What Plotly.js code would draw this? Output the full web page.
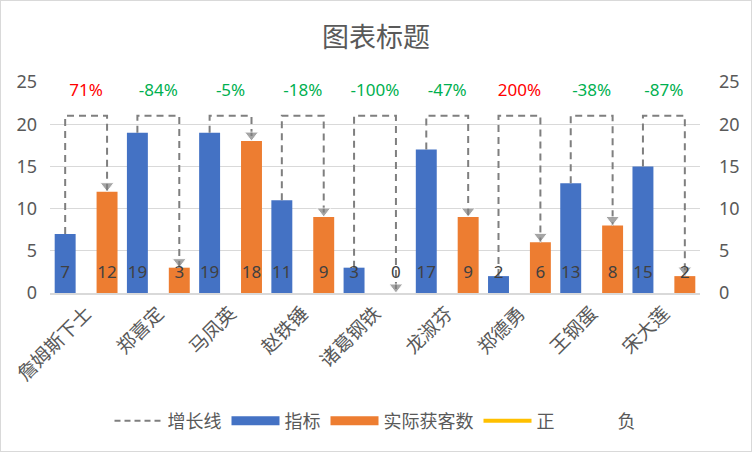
<!DOCTYPE html>
<html>
<head>
<meta charset="utf-8">
<script src="https://cdn.plot.ly/plotly-3.0.1.min.js"></script>
<style>
  body { margin: 0; background: #fff; }
  #graph { width: 750px; height: 450px; border: 1px solid #d9d9d9; }
</style>
</head>
<body>
<div id="graph"></div>
<script>
// chart values
const names = ['詹姆斯下士', '郑喜定', '马凤英', '赵铁锤', '诸葛钢铁', '龙淑芬', '郑德勇', '王钢蛋', '宋大莲']
const target = [7, 19, 19, 11, 3, 17, 2, 13, 15]
const actual = [12, 3, 18, 9, 0, 9, 6, 8, 2]
const yTicks = [0, 5, 10, 15, 20, 25]

const fontFam = '"Noto Sans", "Noto Sans CJK SC", sans-serif'
const grey = '#595959'
const lineGrey = '#7f7f7f'
const blue = '#4472C4'
const orange = '#ED7D31'
const topY = 21      // height of the dashed connector
const pctY = 23.8    // row of percentage labels
const lblY = 2.3     // row of value labels
const shift = 0.29   // bar offset from category centre

const idx = names.map((_, i) => i)
const xBlue = idx.map(i => i - shift)
const xOrange = idx.map(i => i + shift)
const pct = target.map((t, i) => (actual[i] - t) / t)

// connector paths
let gx = [], gy = [], ax = [], ay = [], asz = []
idx.forEach(i => {
    gx.push(xBlue[i], xBlue[i], xOrange[i], xOrange[i], null)
    gy.push(target[i], topY, topY, actual[i], null)
    ax.push(xOrange[i], xOrange[i], null)
    ay.push(topY, actual[i], null)
    asz.push(0, 12, 0)
})

const pos = idx.filter(i => pct[i] >= 0)
const neg = idx.filter(i => pct[i] < 0)
const fmt = v => Math.round(v * 100) + '%'

function legendOnly(name, color, width, dash) {
    return {
        type: 'scatter', mode: 'lines', name: name,
        x: [null], y: [null],
        line: {color: color, width: width, dash: dash || 'solid'}
    }
}

let data = [
    {
        type: 'scatter', mode: 'lines', name: '增长线', showlegend: false,
        x: gx, y: gy,
        line: {color: lineGrey, width: 2, dash: '7px,5px'},
        hoverinfo: 'skip'
    },
    {
        type: 'bar', name: '指标', showlegend: false,
        x: xBlue, y: target, width: 0.29,
        marker: {color: blue}
    },
    {
        type: 'bar', name: '实际获客数', showlegend: false,
        x: xOrange, y: actual, width: 0.29,
        marker: {color: orange}
    },
    legendOnly('增长线', lineGrey, 2, '6px,4px'),
    legendOnly('指标', blue, 9),
    legendOnly('实际获客数', orange, 9),
    legendOnly('正', '#FFC000', 4),
    legendOnly('负', 'rgba(0,0,0,0)', 4),
    {
        type: 'scatter', mode: 'markers', showlegend: false,
        x: ax, y: ay,
        marker: {symbol: 'triangle-up', angleref: 'previous', standoff: 6, size: asz, color: lineGrey},
        hoverinfo: 'skip'
    },
    {
        type: 'scatter', mode: 'text', showlegend: false,
        x: pos, y: pos.map(() => pctY),
        text: pos.map(i => fmt(pct[i])),
        textfont: {color: '#FF0000', size: 17, family: fontFam}
    },
    {
        type: 'scatter', mode: 'text', showlegend: false,
        x: neg, y: neg.map(() => pctY),
        text: neg.map(i => fmt(pct[i])),
        textfont: {color: '#00B050', size: 17, family: fontFam}
    },
    {
        type: 'scatter', mode: 'text', showlegend: false,
        x: xBlue.concat(xOrange), y: xBlue.concat(xOrange).map(() => lblY),
        text: target.concat(actual).map(String),
        textfont: {color: '#404040', size: 17, family: fontFam}
    },
    {
        // right hand axis
        type: 'scatter', mode: 'markers', showlegend: false, yaxis: 'y2',
        x: [0], y: [0], marker: {opacity: 0}, hoverinfo: 'skip'
    }
]

let layout = {
    width: 750,
    height: 450,
    margin: {l: 49, r: 51, t: 81, b: 158},
    paper_bgcolor: '#fff',
    plot_bgcolor: '#fff',
    barmode: 'overlay',
    font: {family: fontFam, color: grey, size: 17},
    title: {
        text: '图表标题',
        font: {size: 27, color: grey, family: fontFam},
        x: 0.5, xanchor: 'center',
        y: 0.918, yanchor: 'middle'
    },
    xaxis: {
        range: [-0.5, 8.5],
        tickvals: idx,
        ticktext: names,
        tickangle: -45,
        tickfont: {size: 19, color: grey},
        showgrid: false,
        zeroline: false,
        showline: true,
        linecolor: '#d9d9d9',
        linewidth: 1.5,
        ticks: ''
    },
    yaxis: {
        range: [0, 25],
        tickvals: yTicks,
        tickfont: {size: 18, color: grey},
        gridcolor: '#d9d9d9',
        gridwidth: 1,
        zeroline: false,
        showline: false,
        ticks: '',
        ticklabelstandoff: 12,
        fixedrange: true
    },
    yaxis2: {
        overlaying: 'y',
        side: 'right',
        range: [0, 25],
        tickvals: yTicks,
        tickfont: {size: 18, color: grey},
        showgrid: false,
        zeroline: false,
        showline: false,
        ticks: '',
        ticklabelstandoff: 18
    },
    showlegend: true,
    legend: {
        orientation: 'h',
        x: 0.5, xanchor: 'center',
        y: -0.607, yanchor: 'middle',
        font: {size: 18, color: grey},
        itemwidth: 48,
        traceorder: 'normal'
    }
}

Plotly.newPlot('graph', data, layout, {displayModeBar: false})
</script>
</body>
</html>
